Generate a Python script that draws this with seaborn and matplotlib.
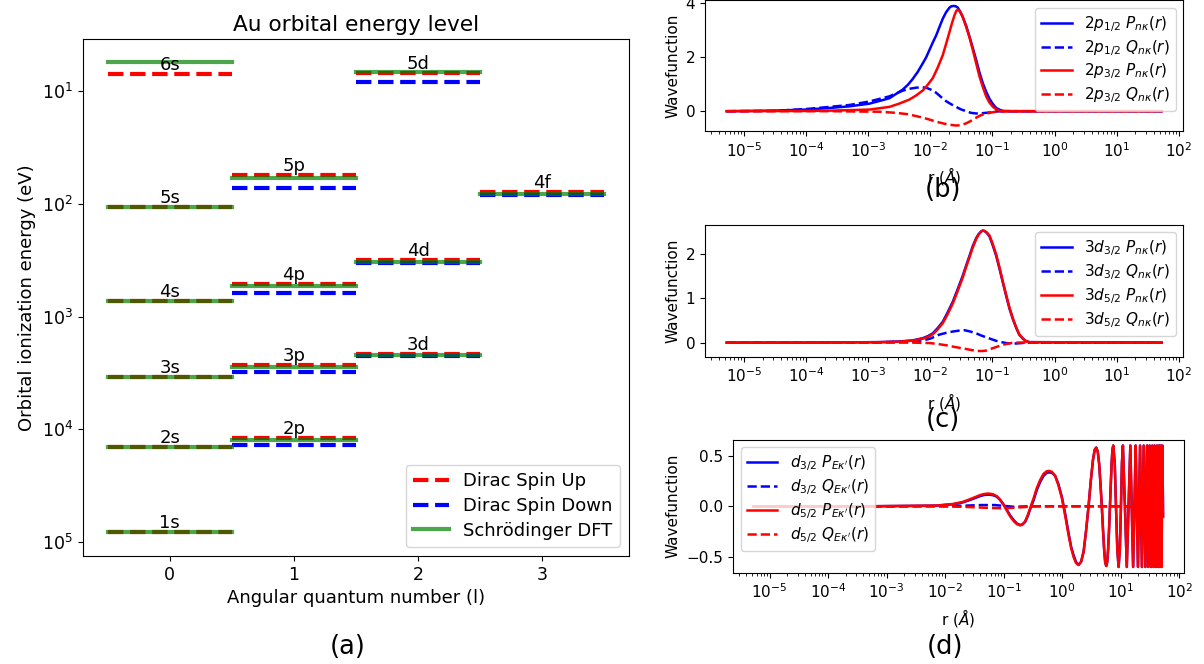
import matplotlib
matplotlib.use("Agg")
import matplotlib.pyplot as plt
from matplotlib.lines import Line2D
import pandas as pd
import seaborn as sns

# ---- (a) orbital ionization energies (eV) ----
orbitals = ["1s", "2s", "3s", "4s", "5s", "6s",
            "2p", "3p", "4p", "5p",
            "3d", "4d", "5d",
            "4f"]
ang_l = [0, 0, 0, 0, 0, 0, 1, 1, 1, 1, 2, 2, 2, 3]
dirac_up = [82000, 14350, 3400, 731, 107.6, 7.1,
            11860, 2680, 514, 55.7,
            2168, 318, 6.93,
            79.4]
dirac_down = [None, None, None, None, None, None,
              13770, 3090, 617, 72.1,
              2260, 337, 8.38,
              84.4]
schrodinger = [82000, 14350, 3400, 731, 107.6, 5.6,
               12500, 2828, 540, 59.3,
               2213, 326, 6.74,
               81.6]

# ---- (b) 2p radial wavefunctions, r in Angstrom ----
p12_P_r = [5.3e-6, 3e-5, 1e-4, 2.4e-4, 5e-4, 1.05e-3, 2.2e-3, 3.6e-3, 4.37e-3, 5.2e-3, 6.3e-3,
           7.6e-3, 8.6e-3, 9.7e-3, 1.1e-2, 1.25e-2, 1.41e-2, 1.59e-2, 1.8e-2, 2.04e-2, 2.19e-2,
           2.37e-2, 2.57e-2, 2.77e-2, 3.02e-2, 3.33e-2, 3.8e-2, 4.28e-2, 4.84e-2, 5.48e-2,
           6.17e-2, 7.0e-2, 7.94e-2, 8.97e-2, 0.102, 0.115, 0.132, 0.147, 0.2, 52.9]
p12_P = [0, 0.02, 0.06, 0.12, 0.18, 0.28, 0.48, 0.80, 0.98, 1.19, 1.46,
         1.78, 2.0, 2.27, 2.55, 2.82, 3.13, 3.43, 3.67, 3.84, 3.89,
         3.90, 3.89, 3.84, 3.70, 3.49, 3.15, 2.76, 2.34, 1.90,
         1.45, 1.04, 0.72, 0.46, 0.26, 0.12, 0.05, 0.01, 0, 0]
p12_Q_r = [5.3e-6, 3e-5, 1e-4, 2.4e-4, 5e-4, 1.05e-3, 2.2e-3, 3.6e-3, 4.6e-3, 5.9e-3, 7.2e-3,
           8.6e-3, 1.05e-2, 1.25e-2, 1.5e-2, 1.8e-2, 2.2e-2, 2.6e-2, 3.1e-2, 3.78e-2, 4.5e-2,
           5.48e-2, 6.5e-2, 7.94e-2, 9.5e-2, 0.115, 0.17, 52.9]
p12_Q = [0, 0.01, 0.08, 0.16, 0.23, 0.36, 0.55, 0.76, 0.83, 0.87, 0.89,
         0.87, 0.79, 0.68, 0.52, 0.37, 0.25, 0.16, 0.07, 0.0, -0.06,
         -0.085, -0.08, -0.06, -0.04, -0.01, 0, 0]
p32_P_r = [5.3e-6, 1e-4, 2.4e-4, 1.05e-3, 2.2e-3, 3.16e-3, 4.6e-3, 5.9e-3, 7.6e-3, 9.1e-3,
           1.1e-2, 1.32e-2, 1.59e-2, 1.8e-2, 2.04e-2, 2.24e-2, 2.45e-2, 2.57e-2, 2.67e-2,
           2.82e-2, 3.03e-2, 3.31e-2, 3.78e-2, 4.27e-2, 4.84e-2, 5.5e-2, 6.19e-2, 7.0e-2,
           7.94e-2, 8.9e-2, 0.102, 0.115, 0.13, 0.16, 52.9]
p32_P = [0, 0.01, 0.02, 0.06, 0.16, 0.28, 0.43, 0.58, 0.77, 0.98,
         1.23, 1.62, 2.08, 2.50, 2.94, 3.27, 3.55, 3.67, 3.74,
         3.76, 3.68, 3.52, 3.13, 2.74, 2.27, 1.76, 1.29, 0.90,
         0.55, 0.33, 0.16, 0.07, 0.02, 0, 0]
p32_Q_r = [5.3e-6, 2.4e-4, 1.5e-3, 2.8e-3, 4.3e-3, 5.9e-3, 7.6e-3, 9.7e-3, 1.25e-2, 1.59e-2,
           2.0e-2, 2.6e-2, 3.1e-2, 3.78e-2, 4.5e-2, 5.48e-2, 6.5e-2, 7.94e-2, 9.5e-2, 0.115,
           0.14, 0.17, 52.9]
p32_Q = [0, 0, -0.02, -0.06, -0.11, -0.18, -0.24, -0.31, -0.39, -0.45,
         -0.50, -0.53, -0.52, -0.45, -0.36, -0.24, -0.15, -0.09, -0.05, -0.02,
         -0.01, 0, 0]

# ---- (c) 3d radial wavefunctions ----
d3_P_r = [5.3e-6, 1e-4, 1.52e-3, 3.19e-3, 5.22e-3, 7.57e-3, 9.3e-3, 1.1e-2, 1.3e-2, 1.59e-2,
          1.9e-2, 2.3e-2, 2.75e-2, 3.33e-2, 3.8e-2, 4.28e-2, 4.8e-2, 5.48e-2, 6.0e-2, 6.6e-2,
          7.0e-2, 7.46e-2, 8.1e-2, 8.97e-2, 0.1, 0.115, 0.13, 0.147, 0.167, 0.188,
          0.215, 0.242, 0.27, 0.309, 0.35, 0.396, 52.9]
d32_P = [0, 0, 0.01, 0.025, 0.05, 0.10, 0.15, 0.21, 0.32, 0.47,
         0.68, 0.92, 1.20, 1.51, 1.75, 1.96, 2.17, 2.36, 2.45, 2.51,
         2.53, 2.52, 2.48, 2.40, 2.22, 1.96, 1.67, 1.36, 1.05, 0.77,
         0.52, 0.33, 0.18, 0.09, 0.03, 0.01, 0]
d52_P = [0, 0, 0.01, 0.02, 0.045, 0.09, 0.13, 0.19, 0.29, 0.44,
         0.64, 0.88, 1.16, 1.47, 1.72, 1.93, 2.14, 2.34, 2.44, 2.51,
         2.53, 2.52, 2.49, 2.42, 2.25, 1.99, 1.70, 1.38, 1.07, 0.79,
         0.53, 0.34, 0.19, 0.09, 0.03, 0.01, 0]
d32_Q_r = [5.3e-6, 1e-3, 5e-3, 7.6e-3, 1.0e-2, 1.4e-2, 1.8e-2, 2.3e-2, 2.9e-2, 3.55e-2, 4.4e-2,
           5.48e-2, 6.6e-2, 7.94e-2, 9.5e-2, 0.115, 0.14, 0.167, 0.2, 0.242, 0.3, 0.35, 52.9]
d32_Q = [0, 0.005, 0.02, 0.05, 0.09, 0.18, 0.22, 0.25, 0.27, 0.28, 0.25,
         0.21, 0.16, 0.12, 0.08, 0.04, 0.01, -0.01, -0.02, -0.02, -0.01, 0, 0]
d52_Q_r = [5.3e-6, 5e-3, 9.7e-3, 1.3e-2, 1.8e-2, 2.5e-2, 3.33e-2, 4.3e-2, 5.2e-2, 6.19e-2,
           7.0e-2, 7.94e-2, 9.5e-2, 0.115, 0.14, 0.167, 0.2, 0.242, 52.9]
d52_Q = [0, 0, -0.01, -0.03, -0.06, -0.10, -0.13, -0.16, -0.18, -0.19,
         -0.19, -0.18, -0.14, -0.10, -0.06, -0.03, -0.01, 0, 0]

# ---- (d) continuum d waves ----
cont_head_r = [5.3e-6, 5.15e-4, 7.1e-3, 1.38e-2, 2.0e-2, 2.66e-2, 3.3e-2, 3.94e-2, 4.6e-2,
               5.47e-2, 6.5e-2, 7.6e-2, 8.7e-2, 9.9e-2, 0.114, 0.129, 0.15, 0.168, 0.191,
               0.21, 0.232, 0.257, 0.283, 0.325, 0.368, 0.42, 0.479, 0.54, 0.598, 0.67,
               0.759, 0.86, 0.989, 1.13, 1.28, 1.42, 1.56, 1.72]
cont32_head = [0, 0, 0.006, 0.02, 0.038, 0.062, 0.083, 0.10, 0.111,
               0.115, 0.11, 0.095, 0.062, 0.02, -0.038, -0.09, -0.14, -0.17, -0.185,
               -0.178, -0.155, -0.10, -0.03, 0.06, 0.16, 0.24, 0.30, 0.33, 0.335, 0.33,
               0.30, 0.22, 0.09, -0.08, -0.26, -0.40, -0.48, -0.55]
cont52_head = [0, 0, 0.007, 0.023, 0.043, 0.07, 0.092, 0.11, 0.121,
               0.126, 0.12, 0.10, 0.065, 0.016, -0.045, -0.10, -0.15, -0.176, -0.189,
               -0.18, -0.15, -0.09, -0.02, 0.08, 0.18, 0.26, 0.32, 0.345, 0.35, 0.34,
               0.30, 0.21, 0.08, -0.10, -0.28, -0.41, -0.50, -0.56]
cont_tail_r = [1.90, 2.1, 2.32, 2.55, 2.82, 3.08, 3.36, 3.6, 3.82, 4.05, 4.28, 4.5, 4.75, 4.98,
               5.2, 5.42, 5.65, 5.88, 6.1, 6.32, 6.55, 6.78, 7.0, 7.22, 7.45, 7.9, 8.3, 8.75,
               9.2, 9.65, 10.1, 10.5, 10.9, 11.8, 12.7, 13.6, 14.6, 15.4, 16.3, 17.15, 18.0,
               19.7, 21.4, 23.0, 24.7, 26.4, 28.2, 29.7, 31.2, 33.0, 34.7, 36.3, 38.0, 39.9,
               41.8, 43.5, 45.3, 46.7, 48.2, 49.8, 51.5, 52.9]
cont_tail = [-0.58, -0.55, -0.45, -0.25, 0.0, 0.25, 0.46, 0.56, 0.58, 0.54, 0.42, 0.23, 0.0, -0.23,
             -0.42, -0.55, -0.59, -0.55, -0.42, -0.23, 0.0, 0.23, 0.43, 0.56, 0.60, 0.43, 0.0, -0.43,
             -0.60, -0.43, 0.0, 0.43, 0.60, 0.0, -0.60, 0.0, 0.60, 0.0, -0.60, 0.0, 0.60,
             -0.60, 0.60, -0.60, 0.60, -0.60, 0.60, -0.60, 0.60, -0.60, 0.60, -0.60, 0.60, -0.60,
             0.60, -0.60, 0.60, -0.60, 0.60, -0.60, 0.60, -0.10]
cont32_Q_r = [5.3e-6, 5e-3, 2e-2, 4e-2, 7e-2, 0.1, 0.15, 0.3, 52.9]
cont32_Q = [0, 0, 0.005, 0.012, 0.012, 0.004, -0.005, 0, 0]
cont52_Q_r = [5.3e-6, 5e-3, 2e-2, 5e-2, 0.1, 0.2, 0.35, 52.9]
cont52_Q = [0, 0, -0.005, -0.015, -0.02, -0.01, 0, 0]


def level_frame(values):
    rows = []
    for name, l, e in zip(orbitals, ang_l, values):
        if e is None:
            continue
        rows.append({"orbital": name, "x": l - 0.5, "E": e})
        rows.append({"orbital": name, "x": l + 0.5, "E": e})
    return pd.DataFrame(rows)


fig = plt.figure(figsize=(12.04, 6.64), dpi=100)

# %% (a) energy levels
ax = fig.add_axes([0.0689, 0.1627, 0.4535, 0.7786])
ax.set_yscale("log")
sns.lineplot(data=level_frame(dirac_up), x="x", y="E", units="orbital", estimator=None,
             color="red", linestyle="--", lw=3, ax=ax, legend=False)
sns.lineplot(data=level_frame(dirac_down), x="x", y="E", units="orbital", estimator=None,
             color="blue", linestyle="--", lw=3, ax=ax, legend=False)
sns.lineplot(data=level_frame(schrodinger), x="x", y="E", units="orbital", estimator=None,
             color="green", alpha=0.7, lw=3, ax=ax, legend=False)
for name, l, e in zip(orbitals, ang_l, dirac_up):
    ax.text(l, e, name, ha="center", va="bottom", fontsize=13)
ax.invert_yaxis()
ax.set_xticks([0, 1, 2, 3])
ax.tick_params(axis="y", which="minor", length=0)
ax.tick_params(labelsize=12.5)
ax.set_xlabel("Angular quantum number (l)", fontsize=13)
ax.set_ylabel("Orbital ionization energy (eV)", fontsize=13)
ax.set_title("Au orbital energy level", fontsize=15.6)
handles = [Line2D([], [], color="red", ls="--", lw=3),
           Line2D([], [], color="blue", ls="--", lw=3),
           Line2D([], [], color="green", alpha=0.7, lw=3)]
ax.legend(handles, ["Dirac Spin Up", "Dirac Spin Down", "Schrödinger DFT"],
          loc="lower right", fontsize=13, labelspacing=0.38)


def wave_panel(rect, curves, yticks, loc):
    a = fig.add_axes(rect)
    a.set_xscale("log")
    for r, v, col, ls, lab in curves:
        sns.lineplot(x=r, y=v, color=col, linestyle=ls, lw=1.8, estimator=None, sort=False,
                     label=lab, ax=a)
    a.set_yticks(yticks)
    a.tick_params(labelsize=11)
    a.set_xlabel(r"r $(\AA)$", fontsize=11)
    a.set_ylabel("Wavefunction", fontsize=11)
    a.legend(loc=loc, fontsize=11, labelspacing=0.25)
    return a


wave_panel([0.5855, 0.8020, 0.3974, 0.1980], [
    (p12_P_r, p12_P, "blue", "-", r"$2p_{1/2}$ $P_{n\kappa}(r)$"),
    (p12_Q_r, p12_Q, "blue", "--", r"$2p_{1/2}$ $Q_{n\kappa}(r)$"),
    (p32_P_r, p32_P, "red", "-", r"$2p_{3/2}$ $P_{n\kappa}(r)$"),
    (p32_Q_r, p32_Q, "red", "--", r"$2p_{3/2}$ $Q_{n\kappa}(r)$"),
], [0, 2, 4], "upper right")

wave_panel([0.5855, 0.4623, 0.3974, 0.1995], [
    (d3_P_r, d32_P, "blue", "-", r"$3d_{3/2}$ $P_{n\kappa}(r)$"),
    (d32_Q_r, d32_Q, "blue", "--", r"$3d_{3/2}$ $Q_{n\kappa}(r)$"),
    (d3_P_r, d52_P, "red", "-", r"$3d_{5/2}$ $P_{n\kappa}(r)$"),
    (d52_Q_r, d52_Q, "red", "--", r"$3d_{5/2}$ $Q_{n\kappa}(r)$"),
], [0, 1, 2], "upper right")

wave_panel([0.6088, 0.1370, 0.3742, 0.2011], [
    (cont_head_r + cont_tail_r, cont32_head + cont_tail, "blue", "-",
     r"$d_{3/2}$ $P_{E\kappa'}(r)$"),
    (cont32_Q_r, cont32_Q, "blue", "--", r"$d_{3/2}$ $Q_{E\kappa'}(r)$"),
    (cont_head_r + cont_tail_r, cont52_head + cont_tail, "red", "-",
     r"$d_{5/2}$ $P_{E\kappa'}(r)$"),
    (cont52_Q_r, cont52_Q, "red", "--", r"$d_{5/2}$ $Q_{E\kappa'}(r)$"),
], [-0.5, 0.0, 0.5], "upper left")

fig.text(0.289, 0.026, "(a)", ha="center", va="center", fontsize=18.5)
fig.text(0.783, 0.714, "(b)", ha="center", va="center", fontsize=18.5)
fig.text(0.783, 0.367, "(c)", ha="center", va="center", fontsize=18.5)
fig.text(0.785, 0.026, "(d)", ha="center", va="center", fontsize=18.5)

fig.savefig("out.png", dpi=100)
